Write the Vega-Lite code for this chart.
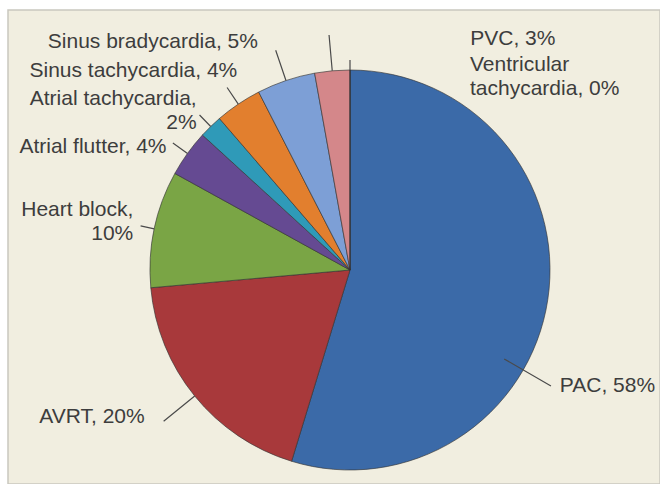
{
  "$schema": "https://vega.github.io/schema/vega-lite/v6.json",
  "width": 652,
  "height": 474,
  "autosize": {"type": "none"},
  "padding": {"left": 8, "top": 10, "right": 0, "bottom": 0},
  "background": "white",
  "view": {"fill": "#f1eee0", "stroke": "#c9c7bf", "strokeWidth": 1.5},
  "data": {
    "values": [
      {"arrhythmia": "PAC", "pct": 58, "label": "PAC, 58%"},
      {"arrhythmia": "AVRT", "pct": 20, "label": "AVRT, 20%"},
      {"arrhythmia": "Heart block", "pct": 10, "label": "Heart block,\n10%"},
      {"arrhythmia": "Atrial flutter", "pct": 4, "label": "Atrial flutter, 4%"},
      {"arrhythmia": "Atrial tachycardia", "pct": 2, "label": "Atrial tachycardia,\n2%"},
      {"arrhythmia": "Sinus tachycardia", "pct": 4, "label": "Sinus tachycardia, 4%"},
      {"arrhythmia": "Sinus bradycardia", "pct": 5, "label": "Sinus bradycardia, 5%"},
      {"arrhythmia": "PVC", "pct": 3, "label": "PVC, 3%"},
      {"arrhythmia": "Ventricular tachycardia", "pct": 0, "label": "Ventricular\ntachycardia, 0%"}
    ]
  },
  "transform": [
    {"window": [{"op": "row_number", "as": "idx"}]},
    {"window": [{"op": "sum", "field": "pct", "as": "cum_end"}], "frame": [null, 0]}
  ],
  "encoding": {
    "theta": {"field": "pct", "type": "quantitative", "stack": true},
    "order": {"field": "idx", "type": "quantitative"},
    "detail": {"field": "arrhythmia", "type": "nominal"}
  },
  "layer": [
    {
      "mark": {"type": "arc", "outerRadius": 200, "x": 342, "y": 260, "stroke": "#333333", "strokeWidth": 0.8, "strokeOpacity": 0.8},
      "encoding": {
        "color": {
          "field": "arrhythmia",
          "type": "nominal",
          "legend": null,
          "scale": {
            "domain": ["PAC", "AVRT", "Heart block", "Atrial flutter", "Atrial tachycardia", "Sinus tachycardia", "Sinus bradycardia", "PVC", "Ventricular tachycardia"],
            "range": ["#3b6aa8", "#a8393b", "#7aa545", "#654a92", "#2f9ab8", "#e27f2e", "#7d9fd6", "#d4878a", "#9aa04a"]
          }
        }
      }
    },
    {
      "mark": {
        "type": "arc",
        "x": 342,
        "y": 260,
        "fill": null,
        "stroke": "#4a4a4a",
        "strokeWidth": 1.2,
        "padAngle": 3.1416,
        "radius": {"expr": "[232,240,214,218,216,220,232,236,210][datum.idx-1]"},
        "radius2": {"expr": "[178,200,200,200,200,200,200,200,200][datum.idx-1]"},
        "thetaOffset": {"expr": "scale('theta', datum.cum_end - datum.pct) - scale('theta', datum.cum_end) + (datum.idx == 1 ? 0.75 : 0)"}
      },
      "encoding": {
        "theta": {"field": "cum_end", "type": "quantitative", "stack": null},
        "theta2": {"field": "cum_end"}
      }
    },
    {
      "mark": {
        "type": "text",
        "x": 342,
        "y": 260,
        "radius": 200,
        "font": "Liberation Sans",
        "fontSize": 21,
        "lineHeight": 24,
        "lineBreak": "\n",
        "fill": "#3d3d3d",
        "baseline": "middle",
        "align": {"expr": "['left','right','right','right','right','right','right','left','left'][datum.idx-1]"},
        "dx": {"expr": "[12,-50,-21,-21,-14,-1,-28,138,120][datum.idx-1]"},
        "dy": {"expr": "[86,21,-19,-6,-27,-33,-39,-32,-5][datum.idx-1]"}
      },
      "encoding": {"text": {"field": "label", "type": "nominal"}}
    }
  ]
}
